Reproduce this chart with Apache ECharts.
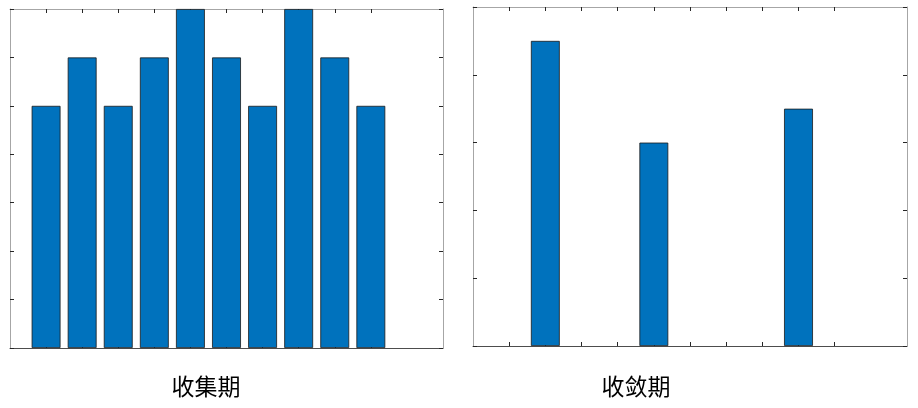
<!DOCTYPE html>
<html>
<head>
<meta charset="utf-8">
<script src="https://cdn.jsdelivr.net/npm/echarts@6/dist/echarts.min.js"></script>
<style>html,body{margin:0;padding:0;background:#fff;}#c{width:918px;height:408px;}</style>
</head>
<body>
<div id="c"></div>
<script>
// Data
const leftPositions = [1, 2, 3, 4, 5, 6, 7, 8, 9, 10];
const leftValues = [5, 6, 5, 6, 7, 6, 5, 7, 6, 5];
const rightPositions = [2, 5, 9];
const rightValues = [4.5, 3, 3.5];
const xTickValues = [1, 2, 3, 4, 5, 6, 7, 8, 9, 10];
const panelTitles = ['收集期', '收敛期'];

const chart = echarts.init(document.getElementById('c'), null, {renderer: 'canvas'});

const grids = [
  {left: 10, top: 9, width: 433, height: 339},
  {left: 473, top: 7, width: 434, height: 339}
];
const xMax = 12;
const barColor = '#0072BD';

function xAxes(gi) {
  const common = {
    type: 'value', gridIndex: gi, min: 0, max: xMax, interval: 1,
    axisLabel: {show: false}, splitLine: {show: false},
    axisTick: {show: true, inside: true, length: 4, customValues: xTickValues, lineStyle: {color: '#262626', width: 1}}
  };
  return [
    Object.assign({}, common, {position: 'bottom', axisLine: {show: true, onZero: false, lineStyle: {color: '#4d4d4d', width: 1}}}),
    Object.assign({}, common, {position: 'top', axisLine: {show: true, onZero: false, lineStyle: {color: '#a6a6a6', width: 1}}})
  ];
}
function yAxes(gi, max) {
  const common = {
    type: 'value', gridIndex: gi, min: 0, max: max, interval: 1,
    axisLabel: {show: false}, splitLine: {show: false},
    axisTick: {show: true, inside: true, length: 4, lineStyle: {color: '#262626', width: 1}},
    axisLine: {show: true, onZero: false, lineStyle: {color: '#a6a6a6', width: 1}}
  };
  return [
    Object.assign({}, common, {position: 'left'}),
    Object.assign({}, common, {position: 'right'})
  ];
}

const barW = (433 / xMax) * 0.8;

chart.setOption({
  animation: false,
  backgroundColor: '#fff',
  grid: grids,
  xAxis: [...xAxes(0), ...xAxes(1)],
  yAxis: [...yAxes(0, 7), ...yAxes(1, 5)],
  series: [
    {
      type: 'bar', xAxisIndex: 0, yAxisIndex: 0, barWidth: barW,
      data: leftPositions.map((x, i) => [x, leftValues[i]]),
      itemStyle: {color: barColor, borderColor: '#1a1a1a', borderWidth: 0.8}
    },
    {
      type: 'bar', xAxisIndex: 2, yAxisIndex: 2, barWidth: barW,
      data: rightPositions.map((x, i) => [x, rightValues[i]]),
      itemStyle: {color: barColor, borderColor: '#1a1a1a', borderWidth: 0.8}
    }
  ],
  graphic: [
    {type: 'text', x: 206, y: 386, style: {text: panelTitles[0], font: '23px "Noto Sans CJK SC"', fill: '#000', align: 'center', verticalAlign: 'middle'}},
    {type: 'text', x: 636, y: 386, style: {text: panelTitles[1], font: '23px "Noto Sans CJK SC"', fill: '#000', align: 'center', verticalAlign: 'middle'}}
  ]
});
</script>
</body>
</html>
